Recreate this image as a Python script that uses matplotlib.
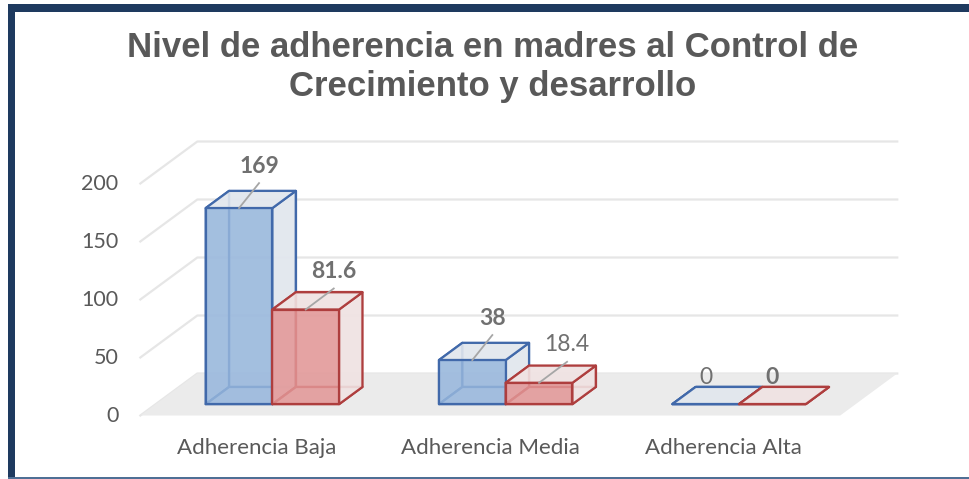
import matplotlib
matplotlib.use('Agg')
import matplotlib.pyplot as plt
from matplotlib.patches import Polygon, Rectangle

# data
categories = ['Adherencia Baja', 'Adherencia Media', 'Adherencia Alta']
serie_1 = [169, 38, 0]
serie_2 = [81.6, 18.4, 0]
label_bold_1 = [True, True, False]
label_bold_2 = [True, False, True]
y_ticks = [0, 50, 100, 150, 200]
title = 'Nivel de adherencia en madres al Control de\nCrecimiento y desarrollo'

# layout (pixels of a 969x479 image)
W, H = 969, 479
X0_PX, PX_PER_CAT = 257, 233.3      # category 0 at the floor front edge
Y0_PX, PX_PER_UNIT = 415.5, 1.16    # value 0 at the floor front edge
DX, DY = 57 / PX_PER_CAT, 42 / PX_PER_UNIT   # depth vector (data units)
Z0, Z1 = 0.27, 0.68                  # bar depth inside the floor
BAR_W = 0.286

BLUE_EDGE, BLUE_FACE, BLUE_LIGHT = '#4169AA', '#96B6DC', '#E2E7EE'
RED_EDGE, RED_FACE, RED_LIGHT = '#AE3E3E', '#E29696', '#F0E3E3'
GRID = '#E6E6E6'
FLOOR = '#EBEBEB'
TEXT = '#595959'
LABEL = '#707070'


def proj(x, y, z):
    return (x + z * DX, y + z * DY)


def draw_box(ax, x0, x1, v, edge, face, light):
    P = proj
    faces = [
        ([P(x0, 0, Z1), P(x1, 0, Z1), P(x1, v, Z1), P(x0, v, Z1)], light, 0.5),  # back
        ([P(x0, 0, Z0), P(x0, 0, Z1), P(x0, v, Z1), P(x0, v, Z0)], light, 0.5),  # left
        ([P(x0, 0, Z0), P(x1, 0, Z0), P(x1, 0, Z1), P(x0, 0, Z1)], light, 0.5),  # bottom
        ([P(x1, 0, Z0), P(x1, 0, Z1), P(x1, v, Z1), P(x1, v, Z0)], light, 0.9),  # right
        ([P(x0, v, Z0), P(x1, v, Z0), P(x1, v, Z1), P(x0, v, Z1)], light, 0.9),  # top
        ([P(x0, 0, Z0), P(x1, 0, Z0), P(x1, v, Z0), P(x0, v, Z0)], face, 0.85),  # front
    ]
    for pts, fc, a in faces:
        ax.add_patch(Polygon(pts, closed=True, facecolor=fc, alpha=a,
                             edgecolor='none', zorder=3))
        ax.add_patch(Polygon(pts, closed=True, facecolor='none', edgecolor=edge,
                             linewidth=1.6, joinstyle='round', zorder=3))


fig = plt.figure(figsize=(W / 100, H / 100), dpi=100)
ax = fig.add_axes([0, 0, 1, 1])
ax.set_xlim((0 - X0_PX) / PX_PER_CAT, (W - X0_PX) / PX_PER_CAT)
ax.set_ylim((Y0_PX - H) / PX_PER_UNIT, Y0_PX / PX_PER_UNIT)
ax.axis('off')

n = len(categories)
xl, xr = -0.5, n - 0.5

# gridlines on the left wall and back wall
for v in y_ticks:
    a = proj(xl, v, 0)
    b = proj(xl, v, 1)
    c = proj(xr, v, 1)
    ax.plot([a[0], b[0], c[0]], [a[1], b[1], c[1]], color=GRID, lw=1.6, zorder=1)
    ax.annotate(str(v), xy=a, xytext=(-22, 0), textcoords='offset pixels',
                ha='right', va='center', fontsize=15.5, color=TEXT, family='Lato')

# floor
ax.add_patch(Polygon([proj(xl, 0, 0), proj(xr, 0, 0), proj(xr, 0, 1), proj(xl, 0, 1)],
                     closed=True, facecolor=FLOOR, edgecolor='none', zorder=1.5))

# bars
for i in range(n):
    draw_box(ax, i - BAR_W, i, serie_1[i], BLUE_EDGE, BLUE_FACE, BLUE_LIGHT)
    draw_box(ax, i, i + BAR_W, serie_2[i], RED_EDGE, RED_FACE, RED_LIGHT)

# data labels with leader lines
for vals, bolds, x_off, lead in [(serie_1, label_bold_1, -BAR_W / 2, (20, 25)),
                                 (serie_2, label_bold_2, BAR_W / 2, (28, 21))]:
    for i, v in enumerate(vals):
        top = proj(i + x_off, v, Z0)
        w = 'bold' if bolds[i] else 'normal'
        if v > 0:
            end = (top[0] + lead[0] / PX_PER_CAT, top[1] + lead[1] / PX_PER_UNIT)
            ax.plot([top[0], end[0]], [top[1], end[1]], color='#A6A6A6', lw=1.3, zorder=4)
            ax.annotate(f'{v:g}', xy=end, xytext=(0, 17), textcoords='offset pixels',
                        ha='center', va='center', fontsize=16.5, fontweight=w,
                        color=LABEL, family='Lato', zorder=5)
        else:
            ax.annotate(f'{v:g}', xy=top, xytext=(0, 27), textcoords='offset pixels',
                        ha='center', va='center', fontsize=16.5, fontweight=w,
                        color=LABEL, family='Lato', zorder=5)

# category labels
for i, c in enumerate(categories):
    ax.annotate(c, xy=(i, 0), xytext=(0, -32), textcoords='offset pixels',
                ha='center', va='center', fontsize=16, color=TEXT, family='Lato')

fig.text(493 / W, 1 - 67 / H, title, ha='center', va='center', fontsize=25,
         fontweight='bold', color=TEXT, family='Liberation Sans', linespacing=1.24)

# frame
navy = '#1E3A5F'
fig.patches.append(Rectangle((8 / W, 1 - 12 / H), 1, 8 / H, transform=fig.transFigure,
                             facecolor=navy, edgecolor='none'))
fig.patches.append(Rectangle((8 / W, 0), 7 / W, 1 - 4 / H, transform=fig.transFigure,
                             facecolor=navy, edgecolor='none'))
fig.patches.append(Rectangle((8 / W, 0), 1, 2 / H, transform=fig.transFigure,
                             facecolor='#4F6F95', edgecolor='none'))

fig.savefig('out.png', dpi=100)
